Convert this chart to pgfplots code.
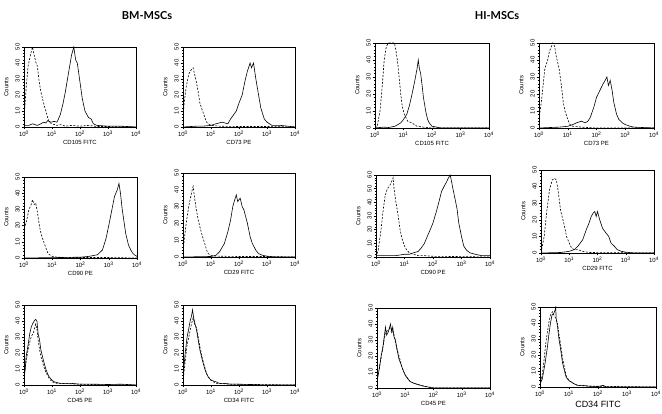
\documentclass[border=0pt]{standalone}
\usepackage{pgfplots}
\pgfplotsset{compat=1.18}
\usepackage{fontspec}
\setmainfont{Liberation Sans}
\newfontfamily\titlefont{Lato}
\newcommand{\tp}[1]{10\textsuperscript{#1}}
\tikzset{
  solc/.style={black, solid, line width=0.6pt, mark=none},
  dashc/.style={black, line width=0.6pt, mark=none, dash pattern=on 2pt off 1.5pt},
}
\pgfplotsset{
    scale only axis,
    xmin=1, xmax=10000, ymin=0, ymax=50,
    tick align=outside,
    xtick pos=left, ytick pos=left,
    xtick={1,10,100,1000,10000},
    xticklabels={\tp{0},\tp{1},\tp{2},\tp{3},\tp{4}},
    minor xtick={2,3,4,5,6,7,8,9,20,30,40,50,60,70,80,90,200,300,400,500,600,700,800,900,2000,3000,4000,5000,6000,7000,8000,9000},
    ytick={0,10,20,30,40,50},
    yticklabels={0,10,20,30,40,50},
    minor ytick={2,4,6,8,12,14,16,18,22,24,26,28,32,34,36,38,42,44,46,48},
    major tick length=2.5pt, minor tick length=1.3pt,
    tick style={black, line width=0.4pt},
    tick label style={font=\fontsize{6}{6}\selectfont},
    xticklabel style={inner sep=1pt},
    yticklabel style={rotate=90, anchor=south, inner sep=1.5pt},
    ylabel={Counts},
    label style={font=\fontsize{6}{6}\selectfont},
    ylabel style={yshift=2pt},
    xlabel style={yshift=1pt},
}
\begin{document}
\begin{tikzpicture}
\path[use as bounding box] (0,0) rectangle (662pt,414pt);
\node[font=\titlefont\bfseries\fontsize{11}{11}\selectfont] at (147pt,398pt) {BM-MSCs};
\node[font=\titlefont\bfseries\fontsize{11}{11}\selectfont] at (497pt,398pt) {HI-MSCs};

% ---------- BM CD105
\begin{semilogxaxis}[at={(24pt,287pt)}, anchor=south west, width=112pt, height=80pt, xlabel={CD105 FITC}]
\addplot[dashc] coordinates {(1,5) (1.1,15) (1.2,25) (1.4,38) (1.7,45) (2,50) (2.3,45) (2.7,40) (3,38) (3.5,28) (4,22) (5,15) (6,10) (7,6) (8,3) (10,2) (15,1) (20,1.5) (30,0.5) (50,1) (100,0.5) (200,1) (400,0.3) (1000,0.3) (10000,0)};
\addplot[solc] coordinates {(1,1) (1.5,1) (2,2) (3,1) (4,2) (5,3) (6,2.5) (7,4) (9,3) (12,3.5) (15,3) (17,5) (20,8) (25,15) (30,22) (40,35) (50,45) (60,50) (70,42) (80,40) (100,28) (120,18) (150,10) (200,6) (250,5) (300,2) (400,1) (1000,0.5) (3000,0.5) (10000,0)};
\end{semilogxaxis}

% ---------- BM CD73
\begin{semilogxaxis}[at={(183pt,287pt)}, anchor=south west, width=112pt, height=80pt, xlabel={CD73 PE}]
\addplot[dashc] coordinates {(1,5) (1.1,15) (1.3,25) (1.6,33) (2,36) (2.3,37) (2.6,33) (3,28) (3.5,22) (4,15) (5,10) (6,6) (7,3) (8,2) (10,1) (20,0.5) (100,0.3) (1000,0.3) (10000,0)};
\addplot[solc] coordinates {(1,0) (3,0.5) (5,0.5) (10,1) (15,2) (25,3) (40,2) (50,5) (80,10) (100,15) (130,20) (160,28) (200,35) (250,40) (280,37) (330,40) (400,30) (500,20) (600,12) (800,5) (1000,3) (1500,1) (3000,1) (10000,0)};
\end{semilogxaxis}

% ---------- HI CD105
\begin{semilogxaxis}[at={(375pt,286pt)}, anchor=south west, width=114pt, height=85pt, xlabel={CD105 FITC}]
\addplot[dashc] coordinates {(1,0) (1.2,1) (1.5,10) (1.8,25) (2.1,40) (2.5,48) (3,50) (4,50) (4.8,50) (5.5,45) (6.3,38) (7,30) (8,20) (9,13) (10.7,8) (14,4) (20,3) (24,2) (30,1) (50,0.5) (100,0) (10000,0)};
\addplot[solc] coordinates {(1,0) (2,0.5) (3,0.3) (5,1) (8,3) (10,5) (13,8) (16,13) (20,20) (25,28) (30,35) (33,40) (36,35) (40,32) (45,25) (50,18) (60,10) (70,5) (80,3) (100,1) (150,0.5) (200,0) (10000,0)};
\end{semilogxaxis}

% ---------- HI CD73
\begin{semilogxaxis}[at={(539pt,286pt)}, anchor=south west, width=115pt, height=85pt, xlabel={CD73 PE}]
\addplot[dashc] coordinates {(1,5) (1.2,15) (1.6,35) (2,40) (2.3,45) (3,50) (3.5,48) (4,42) (5,35) (6,25) (7,15) (8,10) (10,5) (12,2) (15,1) (30,0.5) (100,0) (10000,0)};
\addplot[solc] coordinates {(1,0) (5,0.5) (10,1) (15,2) (20,3) (30,4) (40,3) (50,4) (60,6) (80,12) (100,18) (130,22) (170,26) (200,28) (230,30) (260,25) (300,28) (350,22) (400,15) (500,8) (600,5) (800,3) (1000,2) (1500,1) (2000,0.5) (10000,0)};
\end{semilogxaxis}

% ---------- BM CD90
\begin{semilogxaxis}[at={(24pt,156pt)}, anchor=south west, width=113pt, height=81pt, xlabel={CD90 PE}]
\addplot[dashc] coordinates {(1,18) (1.2,22) (1.5,30) (1.8,33) (2,36) (2.3,33) (2.6,34) (3,28) (3.5,20) (4,15) (5,10) (6,6) (7,3) (8,2) (10,1) (15,0.5) (50,0.3) (1000,0.3) (10000,0)};
\addplot[solc] coordinates {(1,0) (20,0.3) (100,0.5) (200,1) (400,2) (600,5) (800,12) (1000,20) (1300,30) (1600,38) (2000,42) (2300,46) (2600,40) (3000,30) (4000,15) (5000,8) (6000,5) (7000,3) (8000,2) (10000,1)};
\end{semilogxaxis}

% ---------- BM CD29
\begin{semilogxaxis}[at={(183pt,157pt)}, anchor=south west, width=112pt, height=84pt, xlabel={CD29 FITC}]
\addplot[dashc] coordinates {(1,2) (1.1,10) (1.3,20) (1.6,30) (2,38) (2.3,42) (2.6,35) (3,28) (3.5,22) (4,18) (5,12) (6,8) (7,4) (8,2) (10,1) (15,0.5) (100,0.3) (1000,0.3) (10000,0)};
\addplot[solc] coordinates {(1,0) (10,0.3) (15,1) (20,3) (30,8) (40,15) (50,22) (60,30) (70,34) (80,37) (90,33) (110,35) (130,30) (150,28) (200,20) (250,12) (300,8) (400,4) (500,2) (700,1) (1000,0.5) (2000,0) (10000,0)};
\end{semilogxaxis}

% ---------- HI CD90
\begin{semilogxaxis}[at={(376pt,157pt)}, anchor=south west, width=114pt, height=82pt, xlabel={CD90 PE}, ymax=60, ytick={0,10,20,30,40,50,60}, yticklabels={0,10,20,30,40,50,60}, minor ytick={2,4,6,8,12,14,16,18,22,24,26,28,32,34,36,38,42,44,46,48,52,54,56,58}]
\addplot[dashc] coordinates {(1,0) (1.2,5) (1.5,20) (1.8,35) (2.1,45) (2.5,50) (3,52) (3.5,55) (4,58) (4.3,50) (5,40) (5.5,35) (6,30) (7,20) (8,14) (10,8) (12,5) (15,3) (20,2) (30,1) (50,1) (100,0.5) (1000,0.3) (10000,0)};
\addplot[solc] coordinates {(1,1) (5,1) (10,2) (15,2) (20,3) (30,4) (40,7) (50,10) (60,14) (80,20) (100,25) (130,33) (160,40) (200,48) (250,52) (300,55) (350,58) (400,60) (450,55) (500,50) (600,42) (700,35) (800,25) (1000,15) (1200,8) (1500,5) (2000,3) (3000,2) (5000,1) (10000,1)};
\end{semilogxaxis}

% ---------- HI CD29
\begin{semilogxaxis}[at={(541pt,161pt)}, anchor=south west, width=113pt, height=83pt, xlabel={CD29 FITC}]
\addplot[dashc] coordinates {(1,0) (1.3,10) (1.6,25) (2,38) (2.5,44) (3,45) (3.5,44) (4,38) (5,25) (6,20) (7,15) (8,10) (10,6) (12,3) (15,2) (20,2) (30,1) (50,0.3) (10000,0)};
\addplot[solc] coordinates {(1,0) (5,0.3) (10,1) (15,2) (20,4) (30,8) (40,14) (50,18) (60,22) (70,24) (80,25) (90,22) (100,25) (120,20) (150,15) (200,12) (250,10) (300,6) (400,4) (500,2) (700,1) (1000,0.5) (2000,0) (10000,0)};
\end{semilogxaxis}

% ---------- BM CD45
\begin{semilogxaxis}[at={(24pt,29pt)}, anchor=south west, width=112pt, height=80pt, xlabel={CD45 PE}]
\addplot[dashc] coordinates {(1,5) (1.2,15) (1.5,25) (1.8,30) (2.2,33) (2.6,38) (2.9,35) (3.2,28) (3.6,22) (4,18) (5,12) (6,8) (8,4) (10,2) (15,1) (20,1) (100,0.5) (1000,0) (10000,0)};
\addplot[solc] coordinates {(1,22) (1.03,5) (1.1,10) (1.2,18) (1.4,25) (1.6,32) (1.8,36) (2,38) (2.3,40) (2.6,41) (2.9,40) (3.2,32) (3.6,28) (4,22) (5,15) (6,10) (7,7) (8,5) (10,3) (12,2) (15,1.5) (20,1) (30,1) (50,1) (100,0.5) (300,0.5) (1000,0.3) (3000,0.5) (10000,0)};
\end{semilogxaxis}

% ---------- BM CD34
\begin{semilogxaxis}[at={(183pt,29pt)}, anchor=south west, width=112pt, height=80pt, xlabel={CD34 FITC}]
\addplot[dashc] coordinates {(1,2) (1.2,15) (1.4,25) (1.7,32) (2,38) (2.3,42) (2.6,38) (3,36) (3.5,30) (4,24) (5,16) (6,11) (7,7) (8,5) (10,3) (15,1) (20,1) (50,0.5) (10000,0)};
\addplot[solc] coordinates {(1,5) (1.2,20) (1.4,30) (1.6,35) (1.8,40) (2,43) (2.2,47) (2.4,42) (2.7,38) (3,35) (3.5,28) (4,22) (5,15) (6,10) (7,7) (8,5) (10,3) (15,2) (20,1) (30,1) (50,0.5) (100,0.5) (1000,0) (10000,0)};
\end{semilogxaxis}

% ---------- HI CD45
\begin{semilogxaxis}[at={(377pt,26pt)}, anchor=south west, width=113pt, height=80pt, xlabel={CD45 PE}]
\addplot[dashc] coordinates {(1,10) (1.2,12) (1.5,22) (2,35) (2.5,36) (3,38) (3.5,36) (4,33) (5,25) (6,20) (8,12) (10,8) (15,4) (20,3) (30,2) (50,1) (100,0) (10000,0)};
\addplot[solc] coordinates {(1,12) (1.1,8) (1.2,12) (1.4,20) (1.6,25) (1.8,32) (2,38) (2.2,33) (2.5,35) (2.8,38) (3,40) (3.3,35) (3.6,38) (4,32) (4.5,30) (5,25) (6,18) (7,15) (8,12) (10,8) (12,6) (15,4) (20,3) (30,2) (50,1) (70,0.5) (100,0) (10000,0)};
\end{semilogxaxis}

% ---------- HI CD34
\begin{semilogxaxis}[at={(540pt,27pt)}, anchor=south west, width=116pt, height=80pt, xlabel={CD34 FITC}, xlabel style={font=\fontsize{9}{9}\selectfont, yshift=-1pt}]
\addplot[dashc] coordinates {(1,1) (1.2,8) (1.4,18) (1.6,28) (2,40) (2.3,45) (2.7,47) (3,45) (3.5,43) (4,40) (4.5,33) (5,28) (6,18) (7,12) (8,7) (10,4) (15,2) (20,1) (50,0.5) (10000,0)};
\addplot[solc] coordinates {(1,2) (1.2,5) (1.5,15) (1.8,25) (2,32) (2.3,40) (2.6,45) (3,46) (3.3,48) (3.5,50) (3.6,43) (4,38) (4.5,30) (5,25) (6,15) (7,10) (8,6) (10,4) (15,2) (20,1) (30,1) (50,0.5) (100,0.3) (150,1) (200,0) (10000,0)};
\end{semilogxaxis}
\end{tikzpicture}
\end{document}
